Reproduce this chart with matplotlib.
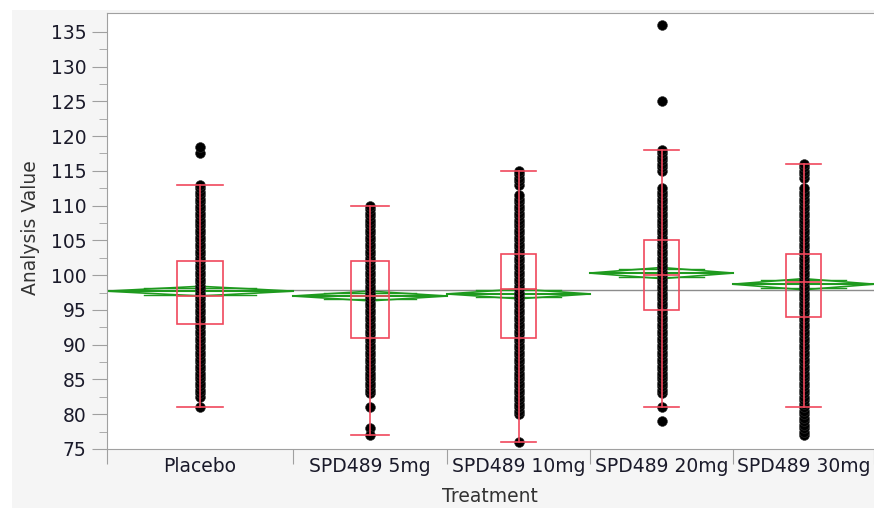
import numpy as np
import matplotlib.pyplot as plt
from matplotlib.patches import Rectangle, Polygon

# ---- data ----
groups = ['Placebo', 'SPD489 5mg', 'SPD489 10mg', 'SPD489 20mg', 'SPD489 30mg']
group_weight = [186, 154, 143, 143, 141]   # JMP scales column width by group size

q1 = [93, 91, 91, 95, 94]
median = [97, 97, 98, 100, 99]
q3 = [102, 102, 103, 105, 103]
whisker_lo = [81, 77, 76, 81, 81]
whisker_hi = [113, 110, 115, 118, 116]

means = [97.7, 97.0, 97.3, 100.3, 98.7]
ci_half = [0.7, 0.7, 0.7, 0.8, 0.8]
grand_mean = 97.9

# runs of closely stacked points (low, high) and isolated points
dense_runs = [
    [(82.5, 113)],
    [(83, 110)],
    [(80, 111.5), (113, 115)],
    [(83, 112.5), (115, 118)],
    [(77, 112.5), (114, 116)],
]
single_pts = [
    [81, 117.5, 118.5],
    [81, 78, 77],
    [76],
    [81, 79, 125, 136],
    [],
]

red = '#f0485c'
green = '#1e9a1e'
gray = '#a0a0a0'

fig = plt.figure(figsize=(8.74, 5.08), dpi=100)
fig.patches.append(Rectangle((12 / 874, 0), 1, 1 - 10 / 508, transform=fig.transFigure,
                             facecolor='#f5f5f5', edgecolor='none', zorder=-10))
ax = fig.add_axes([107 / 874, 59 / 508, 767 / 874, 436 / 508])
ax.set_facecolor('white')

edges = np.concatenate([[0], np.cumsum(group_weight)])
centers = (edges[:-1] + edges[1:]) / 2

ax.axhline(grand_mean, color='#8c8c8c', lw=1, zorder=1)

for i, c in enumerate(centers):
    w = group_weight[i]
    left, right = edges[i], edges[i + 1]
    m, h = means[i], ci_half[i]
    # means diamond
    ax.add_patch(Polygon([(left, m), (c, m + h), (right, m), (c, m - h)], closed=True,
                         fill=False, edgecolor=green, lw=1.2, zorder=2))
    ax.plot([left, right], [m, m], color=green, lw=1.5, zorder=2)
    ov = h * np.sqrt(2) / 2
    for yy in (m + ov, m - ov):
        ax.plot([c - 0.3 * w, c + 0.3 * w], [yy, yy], color=green, lw=1, zorder=2)

    # points
    vals = list(single_pts[i])
    for lo, hi in dense_runs[i]:
        vals += list(np.arange(lo, hi + 0.01, 0.5))
    ax.scatter(np.full(len(vals), c), vals, s=50, color='black', edgecolors='#303030',
               linewidths=0.4, zorder=3)

    # box plot
    bw = 0.25 * w
    ax.add_patch(Rectangle((c - bw / 2, q1[i]), bw, q3[i] - q1[i], fill=False,
                           edgecolor=red, lw=1.2, zorder=4))
    ax.plot([c - bw / 2, c + bw / 2], [median[i]] * 2, color=red, lw=1.2, zorder=4)
    ax.plot([c, c], [whisker_lo[i], whisker_hi[i]], color=red, lw=1.2, zorder=4)
    for yy in (whisker_lo[i], whisker_hi[i]):
        ax.plot([c - bw / 2, c + bw / 2], [yy, yy], color=red, lw=1.2, zorder=4)

ax.set_xlim(edges[0], edges[-1])
ax.set_ylim(75, 137.7)
ax.set_yticks(np.arange(75, 136, 5))
ax.set_yticks(np.arange(77.5, 136, 5), minor=True)
ax.set_xticks(edges)
ax.set_xticklabels([])
ax.set_xticks(centers, minor=True)
ax.set_xticklabels(groups, minor=True)

for s in ['left', 'bottom', 'top']:
    ax.spines[s].set_color(gray)
ax.spines['right'].set_visible(False)
ax.tick_params(axis='y', which='major', length=11, color=gray, pad=4,
               labelsize=13.5, labelcolor='#1a1a2a')
ax.tick_params(axis='y', which='minor', length=6, color=gray)
ax.tick_params(axis='x', which='major', length=11, color=gray)
ax.tick_params(axis='x', which='minor', length=0, pad=6,
               labelsize=13.5, labelcolor='#1a1a2a')

fig.text(30 / 874, 1 - 228 / 508, 'Analysis Value', rotation=90, ha='center', va='center',
         fontsize=13.5, color='#333333')
fig.text(490 / 874, 1 - 496 / 508, 'Treatment', ha='center', va='center',
         fontsize=13.5, color='#333333')

fig.savefig('out.png', dpi=100, facecolor='white')
